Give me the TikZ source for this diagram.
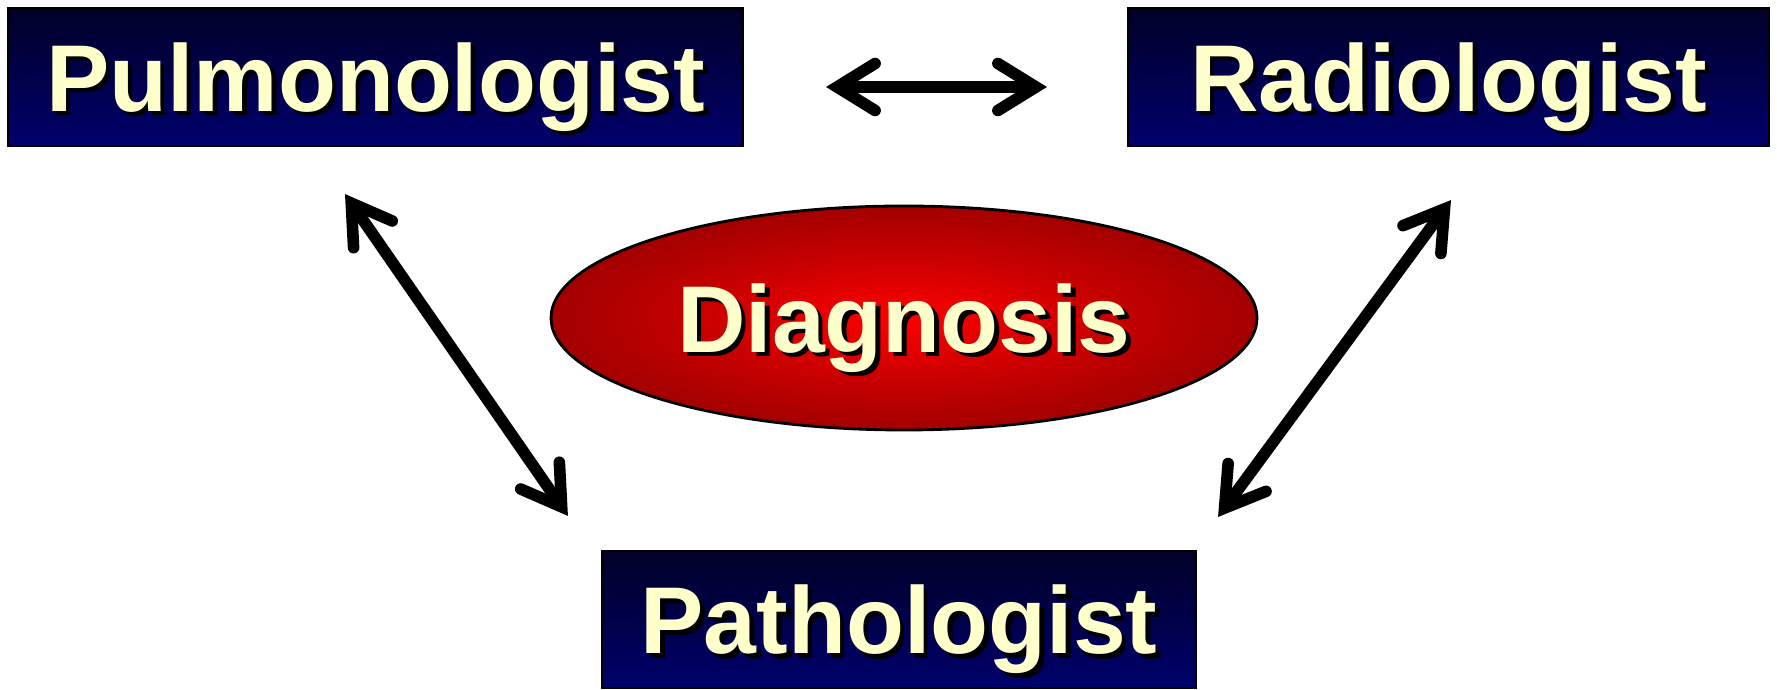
\documentclass[tikz,border=0pt]{standalone}
\usepackage{fontspec}
\setmainfont{Liberation Sans}
\usetikzlibrary{shapes.geometric,arrows.meta}

\definecolor{textyellow}{RGB}{255,255,204}
\definecolor{navytop}{RGB}{0,0,40}
\definecolor{navybottom}{RGB}{0,0,108}
\definecolor{redcenter}{RGB}{255,0,0}
\definecolor{redmid}{RGB}{200,0,0}
\definecolor{redouter}{RGB}{118,0,0}

\pgfdeclareradialshading{diagglow}{\pgfpoint{0bp}{0bp}}{color(0bp)=(redcenter); color(14bp)=(redmid); color(38bp)=(redouter); color(50bp)=(redouter)}

\newcommand{\shadowed}[1]{\rlap{\hspace{1.3pt}\raisebox{-1.3pt}{\color{black}#1}}#1}

\begin{document}
\begin{tikzpicture}[
          role/.style = {draw=black, line width=0.6pt, rectangle, top color=navytop, bottom color=navybottom,
                         text=textyellow, font=\fontsize{27}{32}\selectfont\bfseries, inner sep=0pt, text depth=0pt},
          goal/.style = {draw=black, line width=0.8pt, ellipse, shading=diagglow, minimum width=7.06cm, minimum height=2.24cm,
                         text=textyellow, font=\fontsize{27}{32}\selectfont\bfseries, inner sep=0pt, text depth=0pt},
          link/.style = {line width=3.3pt,
                         {Straight Barb[length=3.8mm, width=4.7mm, line cap=round, line join=miter]}-{Straight Barb[length=3.8mm, width=4.7mm, line cap=round, line join=miter]}}
        ]

        \useasboundingbox (0,0) rectangle (17.77,6.90);

        \node[role, minimum width=7.35cm, minimum height=1.38cm] (pulmo) at (3.755,6.13) {\shadowed{Pulmonologist}};
        \node[role, minimum width=6.41cm, minimum height=1.38cm] (radio) at (14.485,6.13) {\shadowed{Radiologist}};
        \node[role, minimum width=5.94cm, minimum height=1.37cm] (patho) at (8.99,0.705) {\shadowed{Pathologist}};
        \node[goal] (diag) at (9.04,3.72) {\shadowed{Diagnosis}};

        \draw[link] ([xshift=8.2mm, yshift=-1mm]pulmo.east) -- ([xshift=-8mm, yshift=-1mm]radio.west);
        \draw[link] ([xshift=-3.05mm, yshift=-4.7mm]pulmo.south) -- ([xshift=-3.3mm, yshift=3.4mm]patho.north west);
        \draw[link] ([xshift=0.25mm, yshift=-5.3mm]radio.south) -- ([xshift=2.1mm, yshift=3.3mm]patho.north east);
      \end{tikzpicture}
\end{document}
